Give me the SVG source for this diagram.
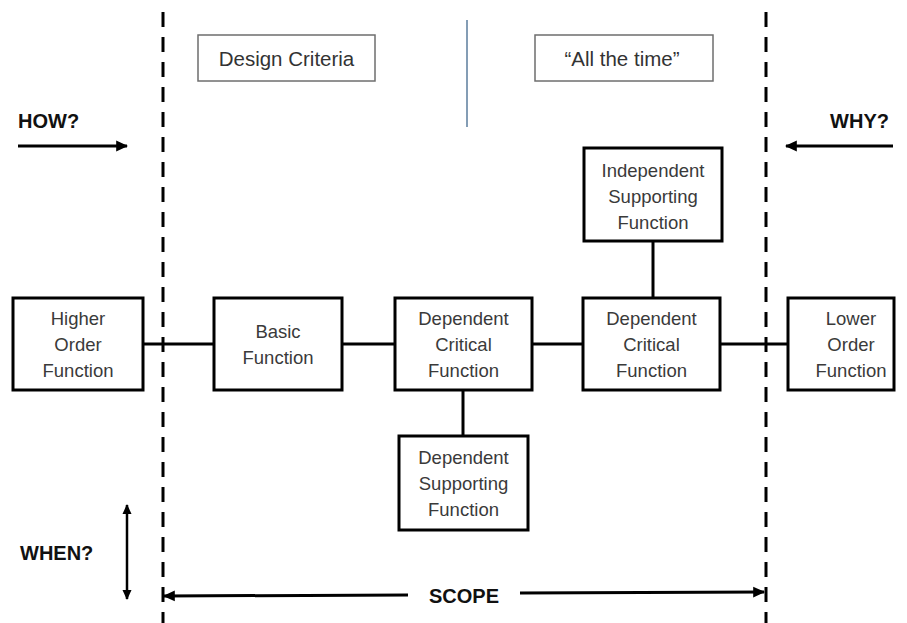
<svg xmlns="http://www.w3.org/2000/svg" width="907" height="623" viewBox="0 0 907 623">
  <defs>
    <marker id="head" viewBox="0 0 10 10" refX="9" refY="5" markerWidth="4" markerHeight="4" orient="auto-start-reverse" markerUnits="strokeWidth">
      <path d="M0,0.5 L10,5 L0,9.5 z" fill="#000"/>
    </marker>
    <style>
      .box { fill: #fff; stroke: #000; stroke-width: 3; }
      .note { fill: #fff; stroke: #6e6e6e; stroke-width: 1.5; }
      .fn { font-family: "Liberation Sans", Arial, sans-serif; font-size: 18.5px; fill: #3a3a3a; text-anchor: middle; }
      .note-t { font-family: "Liberation Sans", Arial, sans-serif; font-size: 20.5px; fill: #333; text-anchor: middle; }
      .q { font-family: "Liberation Sans", Arial, sans-serif; font-size: 20px; font-weight: bold; fill: #111; }
      .link { stroke: #000; stroke-width: 3; fill: none; }
      .bound { stroke: #000; stroke-width: 3; stroke-dasharray: 15 10; fill: none; }
      .arrow { stroke: #000; stroke-width: 3; fill: none; marker-end: url(#head); }
      .arrow2 { stroke: #000; stroke-width: 2.5; fill: none; marker-end: url(#head); marker-start: url(#head); }
    </style>
  </defs>

  <rect width="907" height="623" fill="#fff"/>

  <!-- scope boundaries -->
  <g id="boundaries">
    <line class="bound" x1="163" y1="12" x2="163" y2="623"/>
    <line class="bound" x1="766" y1="12" x2="766" y2="623"/>
    <line x1="467" y1="20" x2="467" y2="127" stroke="#5b7c9c" stroke-width="1.5"/>
  </g>

  <!-- connectors -->
  <g id="connectors">
    <line class="link" x1="143" y1="344" x2="214" y2="344"/>
    <line class="link" x1="342" y1="344" x2="395" y2="344"/>
    <line class="link" x1="532" y1="344" x2="583" y2="344"/>
    <line class="link" x1="720" y1="344" x2="788" y2="344"/>
    <line class="link" x1="653" y1="241" x2="653" y2="298"/>
    <line class="link" x1="463" y1="390" x2="463" y2="436"/>
  </g>

  <!-- header notes -->
  <g id="design-criteria">
    <rect class="note" x="198" y="35" width="177" height="46"/>
    <text class="note-t" x="286.5" y="66">Design Criteria</text>
  </g>
  <g id="all-the-time">
    <rect class="note" x="535" y="35" width="178" height="46"/>
    <text class="note-t" x="622" y="66">“All the time”</text>
  </g>

  <!-- direction labels -->
  <g id="how">
    <text class="q" x="18" y="128">HOW?</text>
    <line class="arrow" x1="18" y1="146" x2="127" y2="146"/>
  </g>
  <g id="why">
    <text class="q" x="889" y="128" text-anchor="end">WHY?</text>
    <line class="arrow" x1="893" y1="146" x2="786" y2="146"/>
  </g>
  <g id="when">
    <text class="q" x="20" y="560">WHEN?</text>
    <line class="arrow2" x1="127" y1="505" x2="127" y2="599"/>
  </g>
  <g id="scope">
    <line class="arrow" x1="408" y1="595" x2="164" y2="596"/>
    <line class="arrow" x1="520" y1="593" x2="764" y2="592"/>
    <text class="q" x="464" y="603" text-anchor="middle" font-size="19">SCOPE</text>
  </g>

  <!-- function nodes -->
  <g id="higher-order">
    <rect class="box" x="13" y="298" width="130" height="92"/>
    <text class="fn" x="78" y="325">Higher</text>
    <text class="fn" x="78" y="351">Order</text>
    <text class="fn" x="78" y="377">Function</text>
  </g>
  <g id="basic">
    <rect class="box" x="214" y="298" width="128" height="92"/>
    <text class="fn" x="278" y="338">Basic</text>
    <text class="fn" x="278" y="364">Function</text>
  </g>
  <g id="dependent-critical-1">
    <rect class="box" x="395" y="298" width="137" height="92"/>
    <text class="fn" x="463.5" y="325">Dependent</text>
    <text class="fn" x="463.5" y="351">Critical</text>
    <text class="fn" x="463.5" y="377">Function</text>
  </g>
  <g id="dependent-critical-2">
    <rect class="box" x="583" y="298" width="137" height="92"/>
    <text class="fn" x="651.5" y="325">Dependent</text>
    <text class="fn" x="651.5" y="351">Critical</text>
    <text class="fn" x="651.5" y="377">Function</text>
  </g>
  <g id="lower-order">
    <rect class="box" x="788" y="298" width="106" height="92"/>
    <text class="fn" x="851" y="325">Lower</text>
    <text class="fn" x="851" y="351">Order</text>
    <text class="fn" x="851" y="377">Function</text>
  </g>
  <g id="independent-supporting">
    <rect class="box" x="584" y="148" width="138" height="93"/>
    <text class="fn" x="653" y="177">Independent</text>
    <text class="fn" x="653" y="203">Supporting</text>
    <text class="fn" x="653" y="229">Function</text>
  </g>
  <g id="dependent-supporting">
    <rect class="box" x="399" y="436" width="129" height="94"/>
    <text class="fn" x="463.5" y="464">Dependent</text>
    <text class="fn" x="463.5" y="490">Supporting</text>
    <text class="fn" x="463.5" y="516">Function</text>
  </g>
</svg>
